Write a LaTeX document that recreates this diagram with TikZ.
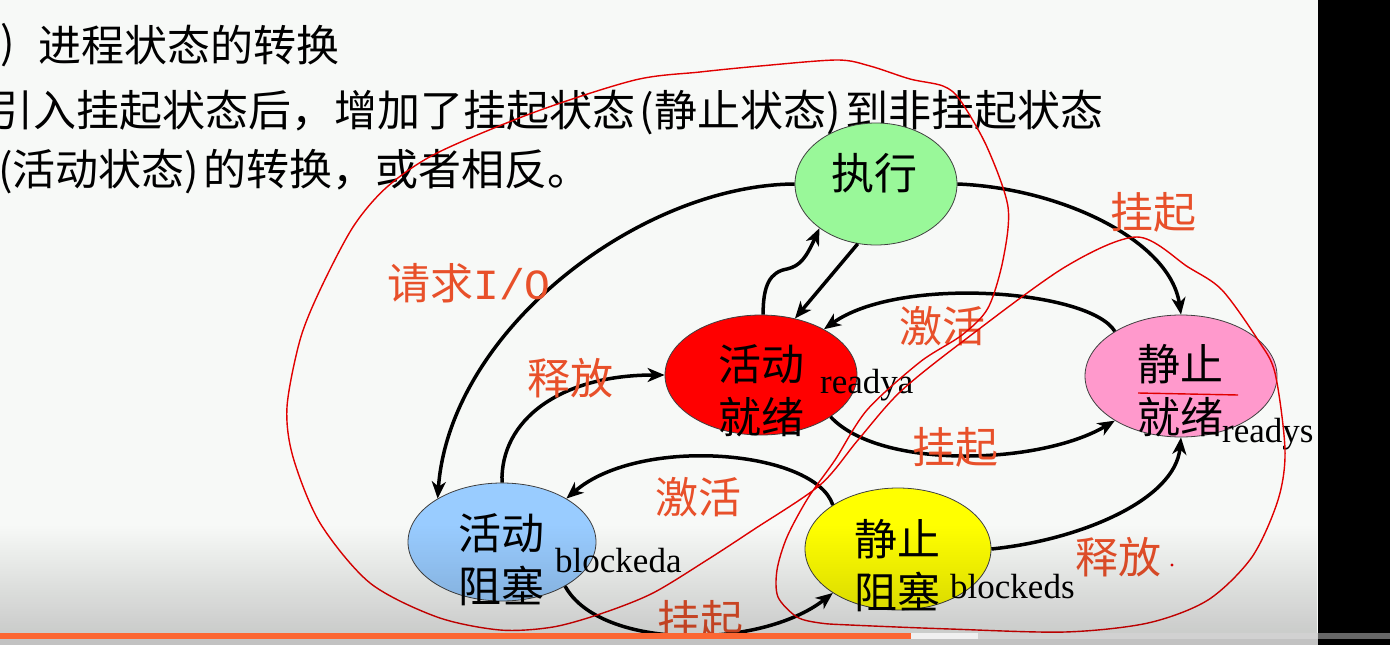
\documentclass[tikz,border=0pt]{standalone}
\usepackage{fontspec}
\usetikzlibrary{shapes.geometric,arrows.meta,fadings}
\newfontfamily\cjk{Noto Sans CJK SC}
\newfontfamily\tnr{Liberation Serif}
\newfontfamily\cmono{Liberation Mono}
\definecolor{bgc}{RGB}{247,249,247}
\definecolor{cgreen}{RGB}{153,248,153}
\definecolor{cred}{RGB}{255,0,0}
\definecolor{cpink}{RGB}{255,153,204}
\definecolor{cblue}{RGB}{153,204,255}
\definecolor{cyellow}{RGB}{255,255,0}
\definecolor{labc}{RGB}{232,80,42}
\definecolor{penred}{RGB}{225,0,0}
\definecolor{barorange}{RGB}{252,102,50}
\tikzfading[name=fadedown, top color=transparent!100, bottom color=transparent!0]
\newcommand\LP{\makebox[0.45em][r]{(}}
\newcommand\RP{\makebox[0.45em][l]{)}}
\tikzset{
  state/.style={ellipse, draw=black!75, line width=0.8pt, inner sep=0pt},
  ntext/.style={font=\cjk\fontsize{43}{53}\selectfont, align=center, inner sep=0pt},
  lab/.style={font=\cjk\fontsize{43}{50}\selectfont, text=labc, inner sep=0pt},
  body/.style={font=\cjk\fontsize{43}{50}\selectfont, anchor=west, inner sep=0pt},
  eng/.style={font=\tnr\fontsize{35}{40}\selectfont, anchor=base west, inner sep=0pt},
  arr/.style={line width=3.5pt, -{Stealth[length=17pt,width=14pt,inset=5pt]}},
  pen/.style={draw=penred, line width=1.4pt, line join=round}
}
\begin{document}
\begin{tikzpicture}[x=1pt,y=-1pt]
\useasboundingbox (0,0) rectangle (1390,645);
\fill[bgc] (0,0) rectangle (1318,645);
\fill[black] (1318,0) rectangle (1390,645);

% body text
\node[body] (t0) at (0,45) {)};
\node[body] (t1) at (38,45) {进程状态的转换};
\node[body] (t2) at (-10,113) {引入挂起状态后，增加了挂起状态\LP 静止状态\RP 到非挂起状态};
\node[body] (t3) at (-7,172) {\LP 活动状态\RP 的转换，或者相反。};

% states
\node[state, fill=cgreen, minimum width=162pt, minimum height=122pt] (run) at (876,184) {};
\node[state, fill=cred, minimum width=192pt, minimum height=120pt] (ra) at (761,375) {};
\node[state, fill=cpink, minimum width=192pt, minimum height=122pt] (rs) at (1181,376) {};
\node[state, fill=cblue, minimum width=188pt, minimum height=118pt] (ba) at (502,542) {};
\node[state, fill=cyellow, minimum width=186pt, minimum height=122pt] (bs) at (898,549) {};

\node[ntext] (runT) at (874,173) {执行};
\node[ntext] (raT) at (761,391) {活动\\就绪};
\node[ntext] (rsT) at (1180,391) {静止\\就绪};
\node[ntext] (baT) at (501,560) {活动\\阻塞};
\node[ntext] (bsT) at (897,566) {静止\\阻塞};

\node[eng] (raE) at (820,393) {readya};
\node[eng] (rsE) at (1222,442) {readys};
\node[eng] (baE) at (555,572) {blockeda};
\node[eng] (bsE) at (950,598) {blockeds};

% arrows
\draw[arr] (run.east) .. controls (1060,188) and (1170,240) .. (rs.north);
\draw[arr] (run.west) .. controls (640,185) and (450,330) .. (ba.146);
\coordinate (sq) at (787,269);
\draw[arr] (ra.88) .. controls (763,285) and (770,272) .. (sq) .. controls (800,266) and (806,258) .. (run.218);
\draw[arr] (run.253) -- (ra.59);
\draw[arr] (rs.146) .. controls (1090,290) and (900,275) .. (ra.36);
\draw[arr] (ra.-31) .. controls (880,470) and (1040,465) .. (rs.214);
\draw[arr] (ba.north) .. controls (500,420) and (560,375) .. (ra.west);
\draw[arr] (bs.146) .. controls (815,450) and (640,435) .. (ba.34);
\draw[arr] (ba.-35) .. controls (600,650) and (760,650) .. (bs.214);
\draw[arr] (bs.east) .. controls (1080,540) and (1175,500) .. (rs.south);

% labels
\node[lab] (l1) at (1153,212) {挂起};
\node[lab] (l2) at (469,283) {请求{\cmono I/O}};
\node[lab] (l3) at (942,326) {激活};
\node[lab] (l4) at (570,378) {释放};
\node[lab] (l5) at (955,447) {挂起};
\node[lab] (l6) at (698,497) {激活};
\node[lab] (l7) at (1118,557) {释放};
\node[lab] (l8) at (700,620) {挂起};

% handwritten pen strokes
\draw[pen] plot[smooth cycle, tension=0.5] coordinates {
 (837,60) (760,66) (700,72) (635,80) (535,112) (437,153) (387,187) (353,227)
 (320,290) (300,340) (287,407) (293,457) (320,523) (370,583) (437,617) (500,630)
 (553,627) (603,613) (653,593) (707,560) (753,530) (820,485) (858,440) (900,392)
 (962,342) (1065,267)
 (1137,237) (1188,267) (1222,290) (1258,340) (1275,373) (1285,450) (1278,500)
 (1252,557) (1208,600) (1148,623) (1065,632) (950,629) (850,625) (820,623)
 (797,617) (778,597) (777,570) (787,537) (808,498) (835,460) (867,410) (920,362) (962,335)
 (988,308) (1003,260) (1008,207) (987,147) (960,100) (943,86) (910,79) (870,66)};
\draw[pen] (1138,393) -- (1238,395);
\fill[penred] (1172,565) circle (1.6);

% video overlay
\fill[black, fill opacity=0.18, path fading=fadedown] (0,525) rectangle (1318,633);
\fill[barorange] (0,633) rectangle (911,639);
\fill[black!6] (911,633) rectangle (978,639);
\fill[black!18] (978,633) rectangle (1318,639);
\fill[black!24] (0,639) rectangle (1318,645);
\fill[black!60] (1318,633) rectangle (1390,639);
\end{tikzpicture}
\end{document}
